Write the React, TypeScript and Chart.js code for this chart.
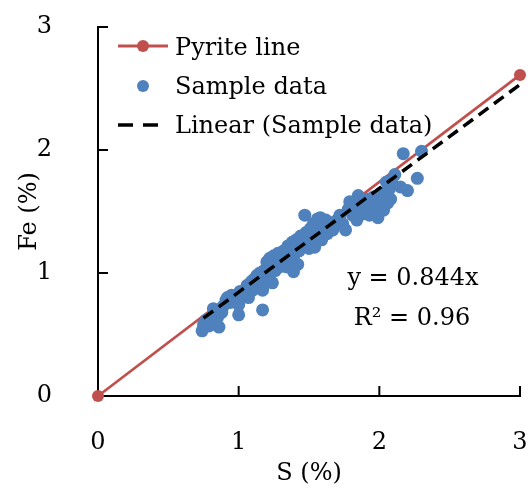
import React, { useEffect, useRef } from "react";
import { Chart, registerables } from "chart.js";

Chart.register(...registerables);

// ---- data ----
const sampleS = [
  0.74, 0.75, 0.77, 0.79, 0.80, 0.82, 0.83, 0.85, 0.86, 0.88, 0.89, 0.91, 0.92, 0.94, 0.95,
  1.00, 1.17,
  0.97, 1.00, 1.01, 1.03, 1.05, 1.06, 1.07, 1.08, 1.09, 1.10, 1.11, 1.12, 1.13, 1.14, 1.15, 1.16, 1.17, 1.18, 1.19, 1.20,
  1.21, 1.22, 1.23, 1.24, 1.25, 1.26, 1.27, 1.28, 1.29, 1.30, 1.31, 1.32, 1.33, 1.34, 1.35, 1.36, 1.37, 1.38, 1.39, 1.40,
  1.41, 1.42, 1.43, 1.44, 1.45, 1.47, 1.47, 1.48, 1.49, 1.50,
  1.51, 1.52, 1.53, 1.54, 1.55, 1.56, 1.57, 1.58, 1.59, 1.60, 1.62, 1.63, 1.65, 1.67, 1.69, 1.72, 1.74, 1.76, 1.78, 1.79,
  1.81, 1.82, 1.84, 1.85, 1.86, 1.88, 1.89, 1.90, 1.92, 1.93, 1.95, 1.96, 1.97, 1.99, 2.00, 2.01, 2.02, 2.03, 2.04, 2.05,
  2.06, 2.07, 2.08, 2.09, 2.11,
  2.15, 2.17, 2.20, 2.27, 2.30,
  1.17, 1.24, 1.39,
];
const sampleFe = [
  0.53, 0.58, 0.62, 0.57, 0.60, 0.71, 0.66, 0.64, 0.56, 0.68, 0.73, 0.78, 0.80, 0.76, 0.82,
  0.66, 0.70,
  0.79, 0.74, 0.85, 0.82, 0.84, 0.90, 0.80, 0.88, 0.93, 0.86, 0.95, 0.90, 0.98, 0.92, 1.00, 0.95, 0.88, 1.02, 0.97, 1.09,
  1.05, 1.12, 1.00, 1.08, 1.14, 1.02, 1.10, 1.16, 1.05, 1.12, 1.08, 1.18, 1.14, 1.05, 1.22, 1.10, 1.17, 1.25, 1.13, 1.20,
  1.27, 1.07, 1.18, 1.30, 1.22, 1.47, 1.26, 1.33, 1.29, 1.20,
  1.36, 1.25, 1.40, 1.21, 1.33, 1.44, 1.30, 1.45, 1.27, 1.38, 1.43, 1.32, 1.38, 1.35, 1.42, 1.47, 1.40, 1.35, 1.52, 1.58,
  1.47, 1.55, 1.43, 1.63, 1.52, 1.48, 1.58, 1.53, 1.60, 1.47, 1.55, 1.62, 1.50, 1.45, 1.58, 1.65, 1.53, 1.51, 1.62, 1.74,
  1.57, 1.68, 1.60, 1.73, 1.80,
  1.70, 1.97, 1.67, 1.77, 1.99,
  0.86, 0.92, 1.01,
];
const pyriteS = [0, 3];
const pyriteFe = [0, 2.61];
const trendS = [0.75, 3];
const trendFe = [0.633, 2.532];
const axisTicks = [0, 1, 2, 3];
const legendLabels = ["Pyrite line", "Sample data", "Linear (Sample data)"];
const equationLines = ["y = 0.844x", "R\u00B2 = 0.96"];
const xTitle = "S (%)";
const yTitle = "Fe (%)";

const FONT = '"DejaVu Serif", serif';
const FS = 24;
const RED = "#C0504D";
const BLUE = "#4F81BD";

const pts = (xs: number[], ys: number[]) => xs.map((x, i) => ({ x, y: ys[i] }));

const inwardTicks = {
  id: "inwardTicks",
  beforeDatasetsDraw(chart: any) {
    const { ctx, chartArea, scales } = chart;
    ctx.save();
    ctx.strokeStyle = "#000";
    ctx.lineWidth = 2;
    for (const v of axisTicks) {
      const px = scales.x.getPixelForValue(v);
      ctx.beginPath();
      ctx.moveTo(px, chartArea.bottom);
      ctx.lineTo(px, chartArea.bottom - 10);
      ctx.stroke();
      const py = scales.y.getPixelForValue(v);
      ctx.beginPath();
      ctx.moveTo(chartArea.left, py);
      ctx.lineTo(chartArea.left + 10, py);
      ctx.stroke();
    }
    ctx.restore();
  },
};

const annotations = {
  id: "annotations",
  afterDraw(chart: any) {
    const { ctx } = chart;
    ctx.save();
    ctx.font = `${FS}px ${FONT}`;
    ctx.fillStyle = "#000";
    ctx.textBaseline = "alphabetic";
    ctx.textAlign = "left";
    const rowMid = [46, 86, 125];
    const rowBase = [55, 94, 133];
    ctx.strokeStyle = RED;
    ctx.lineWidth = 2.8;
    ctx.beginPath();
    ctx.moveTo(118, rowMid[0]);
    ctx.lineTo(168, rowMid[0]);
    ctx.stroke();
    ctx.fillStyle = RED;
    ctx.beginPath();
    ctx.arc(143, rowMid[0], 6, 0, Math.PI * 2);
    ctx.fill();
    ctx.fillStyle = BLUE;
    ctx.beginPath();
    ctx.arc(143, rowMid[1], 6, 0, Math.PI * 2);
    ctx.fill();
    ctx.strokeStyle = "#000";
    ctx.lineWidth = 3.5;
    ctx.setLineDash([15, 10]);
    ctx.beginPath();
    ctx.moveTo(118, rowMid[2]);
    ctx.lineTo(158, rowMid[2]);
    ctx.stroke();
    ctx.setLineDash([]);
    ctx.fillStyle = "#000";
    legendLabels.forEach((t, i) => ctx.fillText(t, 175, rowBase[i]));
    ctx.textAlign = "center";
    ctx.fillText(equationLines[0], 413, 285);
    ctx.fillText(equationLines[1], 412, 325);
    ctx.restore();
  },
};

export default function App() {
  const ref = useRef<HTMLCanvasElement | null>(null);
  useEffect(() => {
    if (!ref.current) return;
    const tickFont = { family: FONT, size: FS };
    const chart = new Chart(ref.current, {
      type: "scatter",
      data: {
        datasets: [
          {
            label: legendLabels[2],
            data: pts(trendS, trendFe),
            showLine: true,
            borderColor: "#000",
            borderWidth: 3.5,
            borderDash: [12, 7],
            pointRadius: 0,
            order: 0,
            clip: false,
          } as any,
          {
            label: legendLabels[1],
            data: pts(sampleS, sampleFe),
            backgroundColor: BLUE,
            borderWidth: 0,
            pointRadius: 6.5,
            order: 1,
            clip: false,
          },
          {
            label: legendLabels[0],
            data: pts(pyriteS, pyriteFe),
            showLine: true,
            borderColor: RED,
            borderWidth: 2.8,
            backgroundColor: RED,
            pointBackgroundColor: RED,
            pointBorderWidth: 0,
            pointRadius: 6,
            order: 2,
            clip: false,
          } as any,
        ],
      },
      options: {
        animation: false,
        responsive: false,
        maintainAspectRatio: false,
        layout: { padding: { top: 27, right: 8, left: 0, bottom: 0 } },
        plugins: { legend: { display: false }, tooltip: { enabled: false } },
        scales: {
          x: {
            type: "linear",
            min: 0,
            max: 3,
            afterFit: (s: any) => {
              s.height = 92;
              s.paddingLeft = 0;
              s.paddingRight = 0;
            },
            grid: { display: false, drawTicks: false },
            border: { display: true, color: "#000", width: 2 },
            ticks: {
              stepSize: 1,
              padding: 32,
              color: "#000",
              font: tickFont,
              callback: (v: any) => String(v),
            },
            title: {
              display: true,
              text: xTitle,
              color: "#000",
              font: tickFont,
              padding: { top: 0, bottom: 0 },
            },
          },
          y: {
            type: "linear",
            min: 0,
            max: 3,
            afterFit: (s: any) => {
              s.width = 98;
              s.paddingTop = 0;
              s.paddingBottom = 0;
            },
            grid: { display: false, drawTicks: false },
            border: { display: true, color: "#000", width: 2 },
            ticks: {
              stepSize: 1,
              padding: 46,
              color: "#000",
              font: tickFont,
              callback: (v: any) => String(v),
            },
            title: {
              display: true,
              text: yTitle,
              color: "#000",
              font: tickFont,
              padding: { top: 15, bottom: 0 },
            },
          },
        },
      },
      plugins: [inwardTicks, annotations],
    });
    return () => chart.destroy();
  }, []);
  return (
    <div style={{ position: "fixed", left: 0, top: 0, width: 528, height: 488, background: "#fff" }}>
      <canvas ref={ref} width={528} height={488} style={{ width: 528, height: 488, display: "block" }} />
    </div>
  );
}
